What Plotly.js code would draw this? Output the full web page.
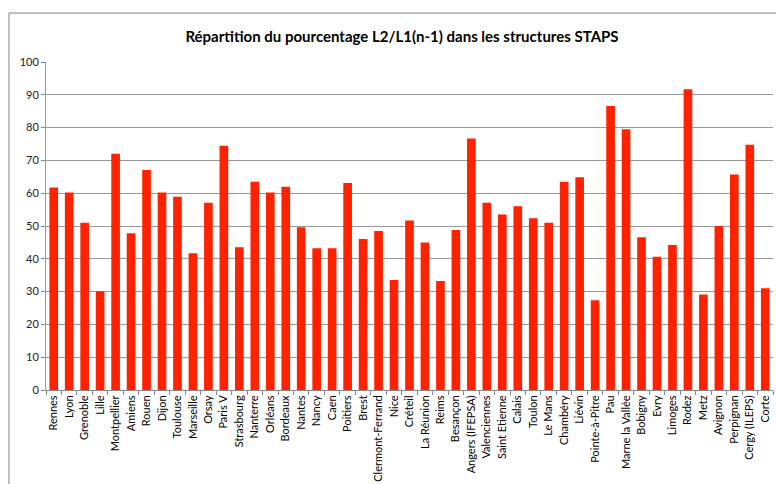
<!DOCTYPE html>
<html>
<head>
<meta charset="utf-8">
<script src="https://cdn.plot.ly/plotly-3.0.1.min.js"></script>
<style>html,body{margin:0;padding:0;background:#fff;}#chart{width:776px;height:484px;}</style>
</head>
<body>
<div id="chart"></div>
<script>
const categories = ["Rennes","Lyon","Grenoble","Lille","Montpellier","Amiens","Rouen","Dijon","Toulouse","Marseille","Orsay","Paris V","Strasbourg","Nanterre","Orléans","Bordeaux","Nantes","Nancy","Caen","Poitiers","Brest","Clermont-Ferrand","Nice","Créteil","La Réunion","Reims","Besançon","Angers (IFEPSA)","Valenciennes","Saint Etienne","Calais","Toulon","Le Mans","Chambéry","Liévin","Pointe-à-Pitre","Pau","Marne la Vallée","Bobigny","Evry","Limoges","Rodez","Metz","Avignon","Perpignan","Cergy (ILEPS)","Corte"];
const values = [61.7,60.2,51.0,30.1,72.0,47.8,67.1,60.2,58.9,41.7,57.1,74.5,43.5,63.5,60.2,62.0,49.6,43.2,43.2,63.1,46.0,48.5,33.5,51.7,45.0,33.2,48.8,76.7,57.1,53.5,56.0,52.4,51.0,63.5,64.9,27.4,86.6,79.5,46.6,40.6,44.2,91.7,29.1,50.0,65.7,74.8,31.0];
const yTicks = [0,10,20,30,40,50,60,70,80,90,100];
const titleText = "Répartition du pourcentage L2/L1(n-1) dans les structures STAPS";

const font = "Lato, Open Sans, sans-serif";
const trace = {
  type: 'bar', x: categories, y: values,
  marker: {color: '#ff2200'},
  hoverinfo: 'x+y'
};
const L = 46, R = 3, T = 62, B = 94, W = 776, H = 484;
const pw = W - L - R, ph = H - T - B;
const fx = (9 - L) / pw, fy = (H - B - 13) / ph;
const layout = {
  width: W, height: H,
  margin: {l: L, r: R, t: T, b: B, pad: 0},
  paper_bgcolor: '#fff', plot_bgcolor: '#fff',
  bargap: 0.44,
  showlegend: false,
  title: {text: '<b>' + titleText + '</b>', x: 402 / W, xanchor: 'center', y: 1 - 37 / H, yanchor: 'middle',
          font: {family: font, size: 15, color: '#000'}},
  xaxis: {
    type: 'category', tickson: 'boundaries', ticks: 'outside', ticklen: 4, tickcolor: '#888',
    tickangle: -90, tickfont: {family: font, size: 11, color: '#000'},
    showgrid: false, showline: true, linecolor: '#888', linewidth: 1, zeroline: false,
    automargin: false
  },
  yaxis: {
    range: [0, 100], tickvals: yTicks, ticktext: yTicks.map(String),
    ticks: 'outside', ticklen: 4, tickcolor: '#888',
    tickfont: {family: font, size: 11, color: '#222'},
    showgrid: true, gridcolor: '#999', gridwidth: 1,
    showline: true, linecolor: '#999', linewidth: 1, zeroline: false,
    automargin: false
  },
  shapes: [
    {type: 'line', xref: 'paper', yref: 'paper', x0: fx, x1: fx, y0: -2, y1: fy, line: {color: '#aaa', width: 1.5}},
    {type: 'line', xref: 'paper', yref: 'paper', x0: fx, x1: 1.2, y0: fy, y1: fy, line: {color: '#aaa', width: 1.5}}
  ]
};
Plotly.newPlot('chart', [trace], layout, {displayModeBar: false, staticPlot: true});
</script>
</body>
</html>
